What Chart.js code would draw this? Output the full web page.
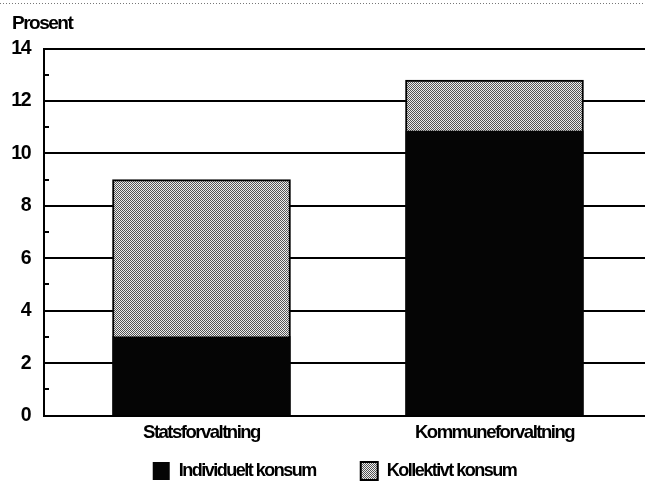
<!DOCTYPE html>
<html>
<head>
<meta charset="utf-8">
<script src="https://cdn.jsdelivr.net/npm/chart.js@4/dist/chart.umd.min.js"></script>
<style>
  html, body { margin: 0; padding: 0; background: #fff; }
  #wrap { width: 645px; height: 484px; }
</style>
</head>
<body>
<div id="wrap"><canvas id="c" width="645" height="484"></canvas></div>
<script>
// ---- data ----
const categories = ['Statsforvaltning', 'Kommuneforvaltning'];
const seriesNames = ['Individuelt konsum', 'Kollektivt konsum'];
const individuelt = [3.0, 10.85];
const kollektivt = [6.0, 1.95];
const yMin = 0;
const yMax = 14;
const yLabelStep = 2;
const yTitle = 'Prosent';

// ---- styles ----
const FONT = "'Liberation Sans', Arial, sans-serif";
const SPACING = '-1.5px';
Chart.defaults.font.family = FONT;
Chart.defaults.font.weight = 'bold';
Chart.defaults.color = '#000';

function ditherPattern(ctx) {
  const c = document.createElement('canvas');
  c.width = 4; c.height = 4;
  const g = c.getContext('2d');
  g.fillStyle = '#eeeeee';
  g.fillRect(0, 0, 4, 4);
  g.fillStyle = '#555555';
  for (let y = 0; y < 4; y++) for (let x = 0; x < 4; x++) if ((x + y) % 2 === 0) g.fillRect(x, y, 1, 1);
  return ctx.createPattern(c, 'repeat');
}

const canvas = document.getElementById('c');
const ctx = canvas.getContext('2d');
const pattern = ditherPattern(ctx);

const clear = 'rgba(0,0,0,0)';

const adjustPlugin = {
  id: 'adjust',
  beforeUpdate(chart) { chart.ctx.letterSpacing = SPACING; },
  beforeLayout(chart) { chart.ctx.letterSpacing = SPACING; },
  beforeDraw(chart) { chart.ctx.letterSpacing = SPACING; },
  afterLayout(chart) {
    const L = chart.legend;
    if (L) {
      L.top -= 32.8;
      L.left += 12; L.right += 12;
    }
    const T = chart.titleBlock;
    if (T) { T.left += 12; T.right += 12; }
  },
  afterDraw(chart) {
    const c = chart.ctx;
    c.save();
    c.strokeStyle = '#777';
    c.lineWidth = 1;
    c.setLineDash([1, 2]);
    c.beginPath();
    c.moveTo(0, 3.5);
    c.lineTo(chart.width, 3.5);
    c.stroke();
    c.restore();
  }
};

new Chart(ctx, {
  type: 'bar',
  data: {
    datasets: [
      {
        label: seriesNames[0],
        data: individuelt.map((v, i) => ({ x: i, y: v })),
        backgroundColor: '#050505',
        borderWidth: 0,
        barThickness: 178
      },
      {
        label: seriesNames[1],
        data: kollektivt.map((v, i) => ({ x: i, y: v })),
        backgroundColor: pattern,
        borderColor: '#000',
        borderWidth: 2,
        barThickness: 178
      }
    ]
  },
  plugins: [adjustPlugin],
  options: {
    responsive: false,
    animation: false,
    devicePixelRatio: 1,
    layout: { padding: { left: 0, right: 0, top: 0, bottom: 0 } },
    plugins: {
      tooltip: { enabled: false },
      title: {
        display: true,
        text: yTitle,
        align: 'start',
        font: { size: 19, weight: 'bold' },
        color: '#000',
        padding: { top: 12.5, bottom: 13.2 }
      },
      legend: {
        position: 'bottom',
        maxHeight: 34.2,
        labels: {
          boxWidth: 17,
          boxHeight: 18,
          padding: 45,
          font: { size: 18, weight: 'bold' },
          color: '#000'
        }
      }
    },
    scales: {
      x: {
        type: 'linear',
        stacked: true,
        offset: false,
        min: -0.5375,
        max: 1.5137,
        ticks: {
          stepSize: 1,
          includeBounds: false,
          autoSkip: false,
          maxRotation: 0,
          padding: 6,
          font: { size: 18.5, weight: 'bold' },
          color: '#000',
          callback: (v) => (Number.isInteger(v) && categories[v] !== undefined) ? categories[v] : ''
        },
        grid: { display: false, drawTicks: false },
        border: { display: true, color: '#000', width: 2 }
      },
      y: {
        stacked: true,
        min: yMin,
        max: yMax,
        ticks: {
          stepSize: 1,
          autoSkip: false,
          padding: 19,
          font: { size: 19.5, weight: 'bold' },
          color: '#000',
          callback: (v) => (v % yLabelStep === 0 ? v : '')
        },
        grid: {
          color: (c) => (c.tick && c.tick.value % yLabelStep === 0) ? '#000' : clear,
          lineWidth: 2,
          tickLength: -5,
          tickWidth: 2,
          tickColor: (c) => (c.tick && c.tick.value % yLabelStep !== 0) ? '#000' : clear
        },
        border: { display: true, color: '#000', width: 2 },
        afterFit: (s) => { s.width = 44; }
      }
    }
  }
});
</script>
</body>
</html>
